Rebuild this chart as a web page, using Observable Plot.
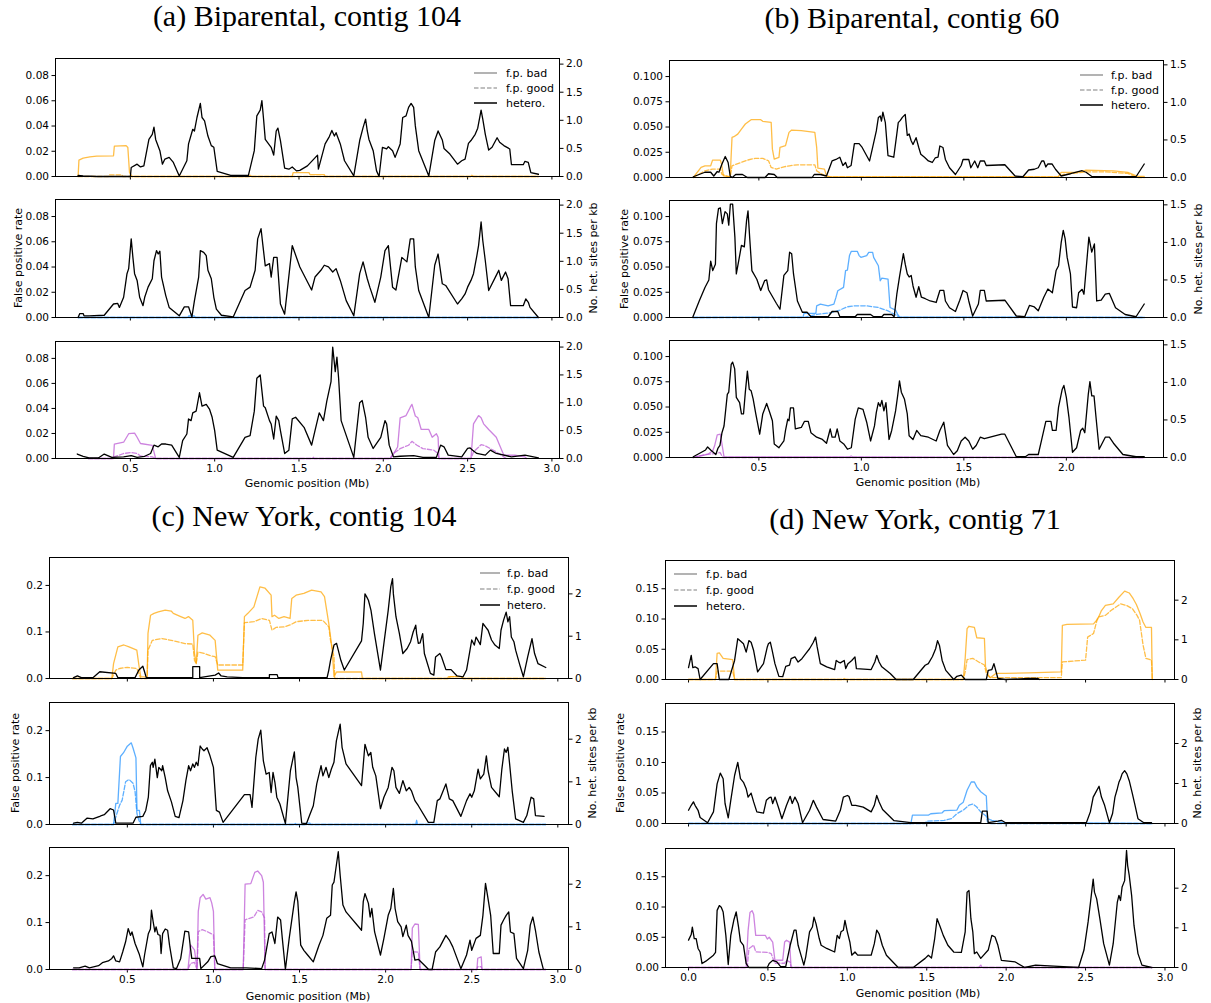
<!DOCTYPE html>
<html>
<head>
<meta charset="utf-8">
<script src="https://cdn.jsdelivr.net/npm/d3@7"></script>
<script src="https://cdn.jsdelivr.net/npm/@observablehq/plot@0.6"></script>
<style>
  body { margin: 0; background: #fff; }
  #fig { position: relative; width: 1211px; height: 1003px; background: #fff; overflow: hidden; font-family: "DejaVu Sans", sans-serif; }
  .t { position: absolute; white-space: nowrap; transform: translate(-50%, -50%); line-height: 1; color: #000; }
  .title { font-family: "Liberation Serif", serif; font-size: 30px; }
  .lab { font-size: 11px; }
</style>
</head>
<body>
<div id="fig"></div>
<script>
// ---- (a) Biparental, contig 104 : [position Mb, value] ----
const a1Het = [[0.19,0.02],[0.22,0.01],[0.30,0],[0.50,0],[0.505,0.16],[0.54,0.22],[0.56,0.17],[0.58,0.19],[0.61,0.66],[0.63,0.75],[0.64,0.88],[0.65,0.66],[0.675,0.46],[0.69,0.22],[0.705,0.31],[0.73,0.34],[0.755,0.25],[0.79,0.01],[0.835,0.28],[0.845,0.58],[0.87,0.84],[0.88,0.81],[0.895,1.05],[0.915,1.30],[0.925,1.05],[0.94,0.99],[0.96,0.72],[0.98,0.55],[0.995,0.52],[1.015,0.09],[1.095,0.02],[1.20,0.02],[1.235,0.46],[1.25,1.08],[1.27,1.18],[1.28,1.35],[1.29,1.02],[1.30,0.66],[1.325,0.56],[1.335,0.52],[1.35,0.38],[1.365,0.81],[1.375,0.86],[1.39,0.64],[1.415,0.15],[1.44,0.13],[1.46,0.17],[1.485,0.10],[1.505,0.11],[1.55,0.19],[1.61,0.38],[1.615,0.13],[1.655,0.58],[1.68,0.71],[1.695,0.82],[1.71,0.72],[1.72,0.78],[1.745,0.58],[1.77,0.28],[1.825,0.01],[1.86,0.64],[1.88,0.87],[1.895,1.02],[1.905,0.81],[1.915,0.66],[1.94,0.46],[1.96,0.10],[1.975,0],[1.995,0.52],[2.02,0.49],[2.03,0.53],[2.055,0.46],[2.07,0.34],[2.10,0.58],[2.115,1.05],[2.135,1.08],[2.15,1.23],[2.165,1.30],[2.18,1.23],[2.19,0.90],[2.21,0.46],[2.27,0.01],[2.305,0.64],[2.325,0.81],[2.35,0.65],[2.36,0.50],[2.395,0.40],[2.44,0.22],[2.465,0.28],[2.485,0.31],[2.505,0.59],[2.52,0.64],[2.545,0.75],[2.56,0.86],[2.58,1.18],[2.59,1.02],[2.605,0.75],[2.625,0.47],[2.645,0.52],[2.675,0.69],[2.69,0.61],[2.715,0.55],[2.75,0.49],[2.76,0.21],[2.83,0.21],[2.84,0.27],[2.86,0.25],[2.875,0.07],[2.92,0.04]];
const a1Bad = [[0.19,0],[0.195,0.013],[0.22,0.0145],[0.26,0.0155],[0.30,0.0162],[0.40,0.0164],[0.405,0.024],[0.475,0.0245],[0.485,0.023],[0.495,0.003],[0.51,0],[1.20,0],[1.21,0.001],[1.22,0],[1.46,0],[1.465,0.003],[1.56,0.003],[1.565,0.0015],[1.65,0.0015],[1.655,0],[2.52,0],[2.525,0.001],[2.535,0],[2.92,0]];
const a1Good = [[0.19,0],[0.37,0],[0.375,0.0013],[0.45,0.0013],[0.455,0],[2.92,0]];

const a2Het = [[0.19,0],[0.20,0.07],[0.22,0.07],[0.225,0.03],[0.255,0.03],[0.345,0.04],[0.40,0.24],[0.425,0.25],[0.435,0.18],[0.46,0.36],[0.48,0.78],[0.49,0.87],[0.505,1.40],[0.515,1.07],[0.525,0.78],[0.54,0.66],[0.555,0.36],[0.575,0.21],[0.585,0.36],[0.605,0.54],[0.63,0.69],[0.64,1.01],[0.655,1.19],[0.665,1.13],[0.675,1.18],[0.685,0.72],[0.71,0.39],[0.73,0.18],[0.79,0.03],[0.82,0.19],[0.845,0.19],[0.865,0.01],[0.88,0.30],[0.905,0.72],[0.915,1.19],[0.935,1.16],[0.95,1.10],[0.96,0.84],[0.98,0.69],[0.995,0.36],[1.01,0.15],[1.04,0.04],[1.11,0.01],[1.18,0.48],[1.21,0.54],[1.24,0.84],[1.255,1.40],[1.275,1.58],[1.285,1.31],[1.30,0.92],[1.325,0.96],[1.335,0.72],[1.35,1.07],[1.37,1.07],[1.39,0.24],[1.415,0.06],[1.46,1.28],[1.505,0.90],[1.575,0.49],[1.595,0.72],[1.63,0.84],[1.65,0.93],[1.675,0.90],[1.70,0.81],[1.72,0.87],[1.745,0.66],[1.78,0.30],[1.825,0.03],[1.86,0.78],[1.88,0.99],[1.905,0.69],[1.92,0.54],[1.95,0.27],[1.985,0.72],[2.01,1.19],[2.03,1.28],[2.055,0.54],[2.075,0.49],[2.11,1.07],[2.14,0.99],[2.16,1.40],[2.18,1.40],[2.19,0.90],[2.21,0.48],[2.27,0],[2.305,0.93],[2.325,1.13],[2.35,0.60],[2.37,0.57],[2.44,0.24],[2.465,0.33],[2.485,0.42],[2.50,0.54],[2.52,0.66],[2.535,0.78],[2.555,1.10],[2.565,1.28],[2.58,1.70],[2.59,1.37],[2.605,1.01],[2.625,0.48],[2.67,0.75],[2.685,0.84],[2.70,0.66],[2.725,0.81],[2.74,0.69],[2.755,0.21],[2.83,0.21],[2.845,0.33],[2.86,0.27],[2.87,0.18],[2.92,0]];
const a2Bad = [[0.19,0],[0.84,0],[0.845,0.0012],[0.88,0.0012],[0.885,0],[2.92,0]];
const a2Good = [[0.19,0],[2.92,0]];

const a3Het = [[0.185,0.08],[0.22,0.04],[0.255,0.01],[0.31,0.01],[0.345,0.08],[0.39,0.02],[0.46,0.03],[0.505,0.05],[0.54,0.02],[0.585,0.04],[0.62,0.09],[0.64,0.24],[0.665,0.21],[0.685,0.26],[0.71,0.26],[0.745,0.24],[0.79,0.02],[0.81,0.32],[0.835,0.44],[0.845,0.71],[0.86,0.68],[0.87,0.82],[0.89,0.85],[0.91,1.18],[0.925,0.94],[0.95,0.97],[0.97,0.88],[0.985,0.74],[1.0,0.50],[1.015,0.15],[1.11,0.02],[1.18,0.38],[1.21,0.41],[1.235,0.85],[1.25,1.44],[1.27,1.50],[1.29,0.94],[1.30,0.91],[1.325,0.68],[1.335,0.62],[1.35,0.35],[1.365,0.76],[1.38,0.68],[1.39,0.50],[1.415,0.09],[1.44,0.15],[1.46,0.71],[1.48,0.74],[1.53,0.56],[1.575,0.24],[1.595,0.50],[1.62,0.82],[1.645,0.68],[1.665,1.03],[1.69,1.38],[1.70,2.0],[1.715,1.56],[1.725,1.82],[1.735,1.44],[1.75,0.68],[1.825,0.02],[1.86,1.0],[1.875,1.04],[1.895,0.74],[1.91,0.38],[1.94,0.18],[1.985,0.38],[2.01,0.68],[2.02,0.62],[2.035,0.24],[2.06,0.03],[2.10,0.04],[2.18,0.05],[2.235,0.02],[2.315,0.02],[2.34,0.24],[2.36,0.21],[2.385,0.06],[2.465,0.03],[2.50,0.18],[2.515,0.19],[2.53,0.15],[2.555,0.09],[2.605,0.06],[2.635,0.15],[2.67,0.09],[2.76,0.03],[2.84,0.06],[2.92,0.01]];
const a3Bad = [[0.25,0],[0.40,0],[0.405,0.0114],[0.46,0.013],[0.49,0.0198],[0.525,0.0203],[0.54,0.017],[0.56,0.012],[0.63,0.0105],[0.65,0],[1.58,0],[1.585,0.001],[1.59,0],[2.04,0],[2.05,0.0013],[2.085,0.0092],[2.10,0.0325],[2.135,0.0343],[2.16,0.041],[2.17,0.0433],[2.19,0.034],[2.205,0.0325],[2.225,0.0232],[2.27,0.0232],[2.29,0.017],[2.315,0.0198],[2.325,0.017],[2.33,0],[2.52,0],[2.535,0.0277],[2.565,0.0343],[2.58,0.0325],[2.595,0.0277],[2.625,0.0232],[2.67,0.017],[2.715,0.0026],[2.78,0.0026],[2.84,0.0013],[2.85,0]];
const a3Good = [[0.25,0],[0.40,0],[0.405,0.0013],[0.46,0.004],[0.505,0.0048],[0.54,0.004],[0.56,0.002],[0.63,0.0013],[0.65,0],[2.04,0],[2.06,0.004],[2.10,0.0079],[2.15,0.0106],[2.17,0.0137],[2.20,0.0106],[2.235,0.0079],[2.30,0.0066],[2.325,0.004],[2.33,0],[2.52,0],[2.535,0.0053],[2.58,0.011],[2.60,0.0105],[2.635,0.0079],[2.67,0.0053],[2.715,0.0013],[2.73,0]];

// ---- (b) Biparental, contig 60 ----
const b1Het = [[0.18,0.01],[0.237,0.07],[0.265,0.07],[0.28,0.02],[0.297,0.08],[0.305,0.07],[0.32,0.18],[0.336,0.28],[0.35,0.20],[0.36,0.02],[0.37,0],[0.387,0.04],[0.42,0.04],[0.444,0],[0.53,0],[0.547,0.05],[0.575,0.04],[0.59,0],[0.76,0],[0.77,0.04],[0.80,0.04],[0.83,0.02],[0.857,0.22],[0.876,0.24],[0.895,0.27],[0.91,0.16],[0.923,0.20],[0.932,0.13],[0.95,0.16],[0.966,0.45],[0.989,0.45],[1.004,0.40],[1.026,0.29],[1.04,0.22],[1.055,0.40],[1.073,0.62],[1.083,0.80],[1.092,0.82],[1.098,0.75],[1.105,0.87],[1.117,0.73],[1.13,0.29],[1.158,0.27],[1.173,0.58],[1.18,0.73],[1.19,0.76],[1.20,0.80],[1.214,0.84],[1.224,0.56],[1.233,0.58],[1.243,0.49],[1.252,0.44],[1.267,0.53],[1.28,0.40],[1.29,0.31],[1.308,0.27],[1.327,0.22],[1.346,0.20],[1.36,0.26],[1.374,0.27],[1.383,0.42],[1.398,0.40],[1.41,0.24],[1.43,0.13],[1.459,0.04],[1.487,0.16],[1.496,0.24],[1.524,0.24],[1.534,0.13],[1.553,0.22],[1.568,0.13],[1.58,0.22],[1.60,0.22],[1.609,0.16],[1.70,0.17],[1.75,0.02],[1.788,0.01],[1.816,0.10],[1.844,0.11],[1.863,0.13],[1.88,0.22],[1.89,0.22],[1.90,0.14],[1.91,0.18],[1.93,0.18],[1.947,0.11],[1.975,0.02],[2.004,0.04],[2.02,0.05],[2.077,0.09],[2.096,0.07],[2.126,0.01],[2.34,0.01],[2.38,0.18]];
const b1Bad = [[0.18,0],[0.218,0.01],[0.237,0.0116],[0.265,0.0116],[0.274,0.0172],[0.312,0.0172],[0.318,0.0132],[0.327,0.0017],[0.36,0.0007],[0.369,0.0397],[0.378,0.0404],[0.397,0.043],[0.415,0.048],[0.434,0.053],[0.462,0.0573],[0.509,0.0573],[0.519,0.0556],[0.56,0.0546],[0.566,0.0281],[0.575,0.0182],[0.598,0.0199],[0.603,0.0298],[0.63,0.0315],[0.647,0.0447],[0.66,0.047],[0.707,0.0464],[0.773,0.0447],[0.782,0.0298],[0.788,0.0093],[0.82,0.0083],[0.83,0.0017],[0.85,0.0007],[1.96,0.0007],[1.975,0.005],[2.05,0.005],[2.077,0.006],[2.096,0.0073],[2.23,0.0066],[2.30,0.005],[2.35,0.001],[2.38,0.001]];
const b1Good = [[0.18,0],[0.237,0.0066],[0.274,0.0083],[0.312,0.0083],[0.32,0.003],[0.36,0.0005],[0.369,0.0116],[0.444,0.0172],[0.48,0.0189],[0.519,0.0189],[0.547,0.0166],[0.56,0.01],[0.585,0.0083],[0.622,0.0106],[0.65,0.0116],[0.688,0.0126],[0.773,0.0126],[0.782,0.0066],[0.83,0.0007],[1.96,0.0005],[1.985,0.003],[2.096,0.0056],[2.19,0.0056],[2.30,0.004],[2.35,0],[2.38,0]];

const b2Het = [[0.177,0],[0.209,0.22],[0.237,0.40],[0.256,0.50],[0.265,0.75],[0.275,0.625],[0.288,0.71],[0.293,1.25],[0.303,1.45],[0.312,1.46],[0.322,1.25],[0.335,1.41],[0.346,1.38],[0.353,1.23],[0.361,1.51],[0.372,1.51],[0.383,1.07],[0.39,0.58],[0.402,0.76],[0.415,0.96],[0.429,0.94],[0.44,1.29],[0.447,1.42],[0.455,1.07],[0.466,0.625],[0.49,0.51],[0.509,0.36],[0.528,0.49],[0.538,0.50],[0.547,0.37],[0.566,0.28],[0.585,0.19],[0.603,0.11],[0.622,0.56],[0.641,0.625],[0.65,0.87],[0.66,0.85],[0.669,0.58],[0.688,0.22],[0.712,0.07],[0.735,0.07],[0.754,0.01],[0.838,0.01],[0.857,0.08],[0.885,0.08],[0.895,0.01],[0.97,0.01],[0.98,0.04],[1.045,0.04],[1.06,0.01],[1.10,0.01],[1.11,0.04],[1.148,0.04],[1.16,0.01],[1.173,0.31],[1.186,0.54],[1.205,0.85],[1.214,0.71],[1.224,0.58],[1.233,0.54],[1.243,0.56],[1.252,0.42],[1.267,0.27],[1.28,0.41],[1.293,0.27],[1.312,0.25],[1.336,0.22],[1.365,0.20],[1.383,0.36],[1.402,0.36],[1.41,0.22],[1.43,0.13],[1.459,0.08],[1.48,0.23],[1.496,0.36],[1.515,0.33],[1.524,0.22],[1.543,0.02],[1.571,0.18],[1.58,0.36],[1.60,0.36],[1.609,0.22],[1.70,0.23],[1.756,0.02],[1.797,0.01],[1.82,0.16],[1.844,0.14],[1.863,0.09],[1.89,0.27],[1.91,0.38],[1.932,0.33],[1.95,0.625],[1.962,0.69],[1.975,1.0],[1.985,1.16],[1.994,1.05],[2.004,0.80],[2.02,0.58],[2.03,0.14],[2.05,0.13],[2.06,0.33],[2.077,0.375],[2.086,0.31],[2.096,0.625],[2.11,1.07],[2.124,0.87],[2.137,0.98],[2.148,0.22],[2.17,0.23],[2.19,0.31],[2.21,0.32],[2.24,0.13],[2.287,0.04],[2.34,0.01],[2.38,0.18]];
const b2Bad = [[0.18,0],[0.716,0.0007],[0.72,0.004],[0.778,0.004],[0.782,0.0116],[0.80,0.0132],[0.838,0.0116],[0.866,0.0132],[0.876,0.0199],[0.885,0.0265],[0.913,0.0298],[0.923,0.0464],[0.932,0.047],[0.942,0.0613],[0.951,0.0656],[0.98,0.0656],[0.989,0.0613],[0.998,0.0596],[1.026,0.0613],[1.036,0.0646],[1.055,0.0646],[1.06,0.0596],[1.083,0.0513],[1.092,0.0364],[1.10,0.039],[1.13,0.0381],[1.14,0.0099],[1.167,0.0073],[1.177,0.003],[1.186,0.0007],[2.38,0]];
const b2Good = [[0.18,0],[0.716,0],[0.782,0.003],[0.857,0.005],[0.895,0.0073],[0.932,0.0106],[0.97,0.0116],[1.026,0.0116],[1.083,0.0099],[1.13,0.0066],[1.167,0.0026],[1.186,0],[2.38,0]];

const b3Het = [[0.18,0.01],[0.24,0.10],[0.25,0.14],[0.265,0.10],[0.29,0.04],[0.30,0.12],[0.31,0.16],[0.32,0.33],[0.33,0.42],[0.346,0.84],[0.353,0.87],[0.365,1.24],[0.372,1.27],[0.382,1.18],[0.39,0.80],[0.406,0.73],[0.415,0.58],[0.425,0.58],[0.434,0.87],[0.444,1.15],[0.453,0.91],[0.462,0.89],[0.472,0.78],[0.485,0.58],[0.504,0.31],[0.519,0.58],[0.538,0.72],[0.553,0.60],[0.566,0.49],[0.575,0.18],[0.598,0.13],[0.622,0.22],[0.63,0.36],[0.641,0.51],[0.647,0.49],[0.654,0.66],[0.669,0.66],[0.678,0.38],[0.707,0.40],[0.722,0.48],[0.741,0.48],[0.754,0.33],[0.782,0.27],[0.81,0.24],[0.83,0.19],[0.848,0.38],[0.857,0.27],[0.872,0.27],[0.882,0.38],[0.895,0.22],[0.914,0.18],[0.932,0.11],[0.951,0.13],[0.97,0.51],[0.985,0.66],[1.008,0.64],[1.026,0.47],[1.045,0.22],[1.064,0.42],[1.073,0.60],[1.083,0.73],[1.092,0.68],[1.10,0.76],[1.11,0.62],[1.12,0.73],[1.135,0.24],[1.148,0.36],[1.167,0.62],[1.177,0.82],[1.186,1.02],[1.195,0.87],[1.21,0.78],[1.224,0.58],[1.233,0.29],[1.252,0.24],[1.27,0.36],[1.29,0.29],[1.327,0.27],[1.365,0.22],[1.383,0.36],[1.402,0.47],[1.41,0.33],[1.42,0.16],[1.45,0.04],[1.468,0.09],[1.487,0.22],[1.506,0.27],[1.524,0.22],[1.543,0.11],[1.56,0.16],[1.58,0.27],[1.60,0.25],[1.628,0.27],[1.684,0.31],[1.70,0.31],[1.756,0.01],[1.80,0.01],[1.816,0.04],[1.863,0.04],[1.88,0.24],[1.90,0.48],[1.925,0.48],[1.932,0.36],[1.95,0.36],[1.962,0.67],[1.98,0.91],[1.988,0.96],[2.0,0.80],[2.013,0.53],[2.03,0.07],[2.05,0.13],[2.07,0.36],[2.08,0.39],[2.09,0.33],[2.107,0.84],[2.115,1.01],[2.124,0.82],[2.135,0.82],[2.145,0.53],[2.16,0.11],[2.19,0.27],[2.21,0.27],[2.23,0.19],[2.276,0.04],[2.34,0.01],[2.38,0.01]];
const b3Bad = [[0.18,0],[0.25,0.003],[0.275,0.0066],[0.284,0.0116],[0.297,0.0225],[0.312,0.0232],[0.32,0.0132],[0.33,0.0007],[0.94,0.0005],[0.95,0.0015],[0.96,0.0005],[2.38,0]];
const b3Good = [[0.18,0],[0.24,0.003],[0.293,0.004],[0.31,0.005],[0.325,0],[2.38,0]];

// ---- (c) New York, contig 104 ----
const c1Het = [[0.188,0.02],[0.21,0.06],[0.233,0.02],[0.30,0.02],[0.34,0.16],[0.433,0.12],[0.445,0.02],[0.545,0.02],[0.567,0.20],[0.59,0.29],[0.60,0.16],[0.61,0.02],[0.78,0.02],[0.88,0.02],[0.88,0.28],[0.92,0.28],[0.92,0.02],[1.01,0.08],[1.03,0.13],[1.045,0.06],[1.08,0.04],[1.17,0.02],[1.325,0.02],[1.325,0.09],[1.37,0.09],[1.375,0.02],[1.66,0.02],[1.67,0.20],[1.68,0.43],[1.70,0.79],[1.715,0.83],[1.725,0.67],[1.74,0.43],[1.76,0.20],[1.86,0.89],[1.87,1.30],[1.88,2.0],[1.89,1.93],[1.90,1.85],[1.915,1.61],[1.935,1.06],[1.97,0.20],[1.99,0.83],[2.015,1.61],[2.03,2.17],[2.04,2.36],[2.045,2.0],[2.06,1.46],[2.08,1.06],[2.10,0.59],[2.125,0.71],[2.145,0.87],[2.16,1.10],[2.175,1.26],[2.18,1.06],[2.19,0.83],[2.20,0.84],[2.215,1.06],[2.225,0.59],[2.26,0.12],[2.28,0.08],[2.29,0.51],[2.315,0.59],[2.325,0.51],[2.35,0.21],[2.38,0.21],[2.415,0.06],[2.45,0.04],[2.47,0.20],[2.49,0.67],[2.50,0.91],[2.515,0.79],[2.525,0.98],[2.55,0.80],[2.565,1.30],[2.58,1.22],[2.595,1.14],[2.615,0.91],[2.635,0.79],[2.66,0.71],[2.67,1.14],[2.685,1.38],[2.70,1.57],[2.71,1.34],[2.72,1.46],[2.73,0.98],[2.745,0.87],[2.755,0.67],[2.78,0.31],[2.80,0.04],[2.825,0.51],[2.85,0.94],[2.865,0.59],[2.885,0.35],[2.93,0.26]];
const c1Bad = [[0.18,0],[0.41,0],[0.42,0.032],[0.445,0.068],[0.48,0.072],[0.51,0.068],[0.555,0.061],[0.567,0.029],[0.578,0.004],[0.615,0.003],[0.62,0.097],[0.635,0.136],[0.655,0.14],[0.68,0.143],[0.72,0.147],[0.755,0.145],[0.767,0.14],[0.81,0.133],[0.835,0.129],[0.855,0.133],[0.88,0.125],[0.89,0.054],[0.90,0.032],[0.91,0.093],[0.935,0.098],[0.98,0.093],[1.01,0.082],[1.025,0.018],[1.17,0.018],[1.18,0.133],[1.20,0.14],[1.235,0.154],[1.27,0.197],[1.30,0.194],[1.335,0.179],[1.34,0.133],[1.355,0.136],[1.38,0.129],[1.41,0.133],[1.445,0.129],[1.455,0.172],[1.48,0.179],[1.525,0.183],[1.57,0.19],[1.625,0.186],[1.645,0.176],[1.67,0.118],[1.69,0.061],[1.70,0.004],[1.715,0.014],[1.86,0.014],[1.865,0],[2.36,0],[2.365,0.004],[2.44,0.004],[2.45,0],[2.93,0]];
const c1Good = [[0.18,0],[0.41,0],[0.433,0.018],[0.455,0.0215],[0.50,0.024],[0.555,0.0215],[0.567,0.011],[0.578,0],[0.615,0],[0.62,0.061],[0.645,0.082],[0.70,0.086],[0.755,0.082],[0.835,0.075],[0.88,0.074],[0.89,0.039],[0.90,0.032],[0.91,0.057],[0.945,0.054],[0.99,0.048],[1.01,0.047],[1.025,0.029],[1.17,0.029],[1.18,0.12],[1.235,0.122],[1.28,0.129],[1.325,0.125],[1.34,0.104],[1.365,0.11],[1.41,0.111],[1.445,0.115],[1.48,0.122],[1.55,0.125],[1.635,0.125],[1.67,0.111],[1.68,0.082],[1.70,0.047],[1.705,0],[2.37,0],[2.375,0.004],[2.44,0.004],[2.45,0],[2.93,0]];

const c2Het = [[0.188,0.03],[0.21,0.05],[0.233,0.03],[0.267,0.15],[0.30,0.13],[0.34,0.19],[0.35,0.21],[0.366,0.23],[0.40,0.37],[0.42,0.34],[0.433,0.03],[0.533,0.03],[0.55,0.17],[0.59,0.19],[0.607,0.33],[0.622,0.64],[0.634,1.38],[0.645,1.46],[0.65,1.34],[0.66,1.53],[0.674,1.10],[0.683,1.34],[0.70,1.26],[0.705,1.38],[0.72,1.10],[0.734,0.79],[0.756,0.53],[0.778,0.19],[0.80,0.16],[0.823,0.56],[0.84,1.03],[0.856,1.38],[0.867,1.26],[0.88,1.42],[0.89,1.34],[0.90,1.46],[0.91,1.38],[0.923,1.84],[0.935,1.77],[0.945,1.73],[0.963,1.80],[0.98,1.61],[1.0,1.34],[1.017,0.33],[1.035,0.29],[1.056,0.05],[1.18,0.70],[1.213,0.70],[1.224,0.40],[1.246,1.57],[1.26,2.0],[1.275,2.21],[1.29,1.49],[1.306,1.18],[1.324,1.22],[1.335,0.75],[1.346,1.22],[1.357,0.99],[1.368,0.64],[1.386,0.48],[1.418,0.02],[1.447,1.26],[1.47,1.70],[1.48,1.10],[1.49,0.87],[1.513,0.03],[1.54,0.02],[1.558,0.21],[1.58,0.44],[1.60,0.95],[1.625,1.38],[1.636,1.14],[1.654,1.34],[1.67,1.10],[1.685,1.30],[1.70,1.46],[1.714,1.96],[1.725,2.16],[1.736,2.35],[1.747,1.81],[1.77,1.42],[1.86,0.91],[1.88,1.88],[1.90,1.61],[1.914,1.69],[1.925,1.34],[1.943,1.14],[1.97,0.37],[1.99,0.64],[2.015,0.87],[2.037,1.34],[2.048,1.26],[2.06,0.87],[2.08,0.73],[2.10,1.03],[2.12,0.79],[2.137,0.87],[2.15,0.79],[2.17,0.56],[2.19,0.44],[2.248,0.05],[2.28,0.05],[2.30,0.56],[2.315,0.60],[2.35,0.95],[2.37,0.60],[2.39,0.56],[2.437,0.19],[2.47,0.56],[2.49,0.72],[2.50,0.64],[2.515,0.79],[2.537,1.30],[2.55,1.07],[2.57,1.18],[2.585,1.61],[2.595,1.26],[2.615,0.87],[2.66,0.65],[2.675,1.30],[2.69,1.77],[2.70,1.69],[2.71,1.81],[2.72,1.42],[2.735,0.79],[2.755,0.13],[2.80,0.05],[2.82,0.21],[2.845,0.64],[2.86,0.60],[2.87,0.21],[2.92,0.19]];
const c2Bad = [[0.18,0],[0.42,0],[0.433,0.045],[0.445,0.045],[0.46,0.145],[0.478,0.153],[0.50,0.167],[0.523,0.174],[0.533,0.163],[0.55,0.142],[0.556,0.03],[0.57,0.03],[0.578,0],[1.47,0],[1.475,0.002],[1.48,0],[1.53,0],[1.535,0.003],[1.56,0.003],[1.565,0],[2.175,0],[2.18,0.009],[2.185,0],[2.93,0]];
const c2Good = [[0.18,0],[0.42,0],[0.433,0.016],[0.455,0.041],[0.47,0.052],[0.49,0.091],[0.51,0.096],[0.533,0.088],[0.545,0.07],[0.556,0.023],[0.567,0.009],[0.578,0],[2.93,0]];

const c3Het = [[0.188,0.04],[0.22,0.04],[0.255,0.08],[0.28,0.04],[0.333,0.09],[0.355,0.16],[0.39,0.20],[0.41,0.26],[0.42,0.32],[0.433,0.20],[0.455,0.18],[0.473,0.41],[0.49,0.65],[0.505,0.96],[0.518,0.80],[0.527,0.88],[0.545,0.61],[0.57,0.35],[0.59,0.06],[0.60,0.34],[0.622,0.84],[0.634,0.95],[0.64,1.39],[0.65,1.12],[0.66,0.88],[0.667,1.0],[0.678,0.82],[0.69,0.80],[0.696,0.375],[0.705,0.84],[0.72,0.95],[0.734,0.92],[0.745,0.57],[0.767,0.04],[0.785,0.02],[0.81,0.26],[0.834,0.90],[0.856,0.88],[0.867,0.49],[0.874,0.26],[0.92,0.26],[0.927,0.02],[0.967,0.18],[0.985,0.30],[1.008,0.32],[1.023,0.14],[1.10,0.04],[1.19,0.04],[1.28,0.02],[1.297,0.22],[1.324,0.84],[1.34,0.88],[1.357,0.61],[1.373,1.23],[1.39,1.16],[1.40,0.73],[1.418,0],[1.44,0.73],[1.47,1.59],[1.48,1.82],[1.49,1.59],[1.507,0.57],[1.525,0.45],[1.547,0.34],[1.58,0.18],[1.613,0.57],[1.636,0.80],[1.658,1.20],[1.68,1.27],[1.69,1.98],[1.70,2.05],[1.714,2.45],[1.725,2.76],[1.736,2.21],[1.752,1.51],[1.77,1.35],[1.86,0.92],[1.87,1.59],[1.88,1.78],[1.90,1.55],[1.91,1.23],[1.92,1.43],[1.936,0.88],[1.97,0.34],[1.99,0.73],[2.015,1.27],[2.03,1.43],[2.045,1.90],[2.055,1.43],[2.07,1.12],[2.09,1.0],[2.10,0.77],[2.12,1.04],[2.13,0.80],[2.15,0.66],[2.17,0.22],[2.19,0.24],[2.215,0.14],[2.25,0],[2.27,0],[2.29,0.41],[2.315,0.53],[2.35,0.80],[2.37,0.69],[2.39,0.53],[2.437,0.02],[2.47,0.34],[2.49,0.69],[2.50,0.45],[2.525,0.73],[2.55,0.80],[2.565,1.27],[2.58,2.02],[2.59,1.78],[2.61,1.27],[2.625,0.375],[2.66,0.375],[2.67,1.04],[2.685,1.16],[2.70,1.27],[2.715,1.35],[2.725,0.88],[2.745,0.84],[2.76,0.26],[2.80,0.02],[2.825,0.45],[2.84,1.04],[2.855,1.23],[2.87,0.92],[2.89,0.41],[2.915,0.02]];
const c3Bad = [[0.18,0],[0.852,0],[0.867,0.0525],[0.89,0.042],[0.905,0.002],[0.912,0.124],[0.923,0.153],[0.94,0.16],[0.956,0.15],[0.98,0.153],[0.99,0.142],[1.0,0.124],[1.008,0],[1.173,0],[1.184,0.182],[1.217,0.183],[1.24,0.207],[1.257,0.21],[1.28,0.20],[1.29,0.186],[1.30,0],[2.148,0],[2.155,0.088],[2.17,0.097],[2.19,0.096],[2.20,0],[2.53,0],[2.535,0.024],[2.555,0.027],[2.56,0],[2.93,0]];
const c3Good = [[0.18,0],[0.852,0],[0.867,0.013],[0.89,0.015],[0.905,0],[0.912,0.081],[0.935,0.085],[0.968,0.08],[1.0,0.074],[1.008,0],[1.173,0],[1.184,0.106],[1.235,0.112],[1.257,0.126],[1.28,0.123],[1.297,0.11],[1.30,0],[2.148,0],[2.155,0.038],[2.19,0.037],[2.20,0],[2.53,0],[2.535,0.006],[2.555,0.006],[2.56,0],[2.93,0]];

// ---- (d) New York, contig 71 ----
const d1Het = [[0.0,0.30],[0.017,0.61],[0.027,0.30],[0.041,0.32],[0.06,0.275],[0.073,0],[0.157,0.40],[0.18,0.40],[0.194,0],[0.254,0],[0.29,0.48],[0.31,1.03],[0.327,0.97],[0.346,0.90],[0.363,0.69],[0.38,0.98],[0.394,0.94],[0.41,0.73],[0.435,0.19],[0.472,0.40],[0.496,0.82],[0.503,0.90],[0.515,0.94],[0.527,0.73],[0.544,0.40],[0.569,0.08],[0.593,0.07],[0.612,0.33],[0.636,0.36],[0.646,0.525],[0.67,0.57],[0.69,0.44],[0.714,0.525],[0.738,0.65],[0.762,0.775],[0.786,0.94],[0.80,1.07],[0.81,0.82],[0.83,0.40],[0.87,0.32],[0.92,0.25],[0.93,0.48],[0.944,0.44],[0.956,0.42],[0.98,0.48],[0.99,0.275],[1.004,0.40],[1.028,0.48],[1.048,0.57],[1.057,0.275],[1.15,0.25],[1.173,0.44],[1.185,0.61],[1.20,0.44],[1.217,0.32],[1.27,0.15],[1.307,0],[1.415,0],[1.49,0.36],[1.51,0.40],[1.536,0.58],[1.556,0.775],[1.568,0.98],[1.58,0.86],[1.597,0.48],[1.62,0.23],[1.67,0],[1.69,0.08],[1.718,0.11],[1.742,0],[1.875,0],[1.887,0.23],[1.91,0.25],[1.923,0.40],[1.948,0.025],[1.996,0],[2.14,0.025],[2.20,0.025],[2.21,0]];
const d1Bad = [[0,0],[0.17,0],[0.18,0.043],[0.194,0.044],[0.218,0.035],[0.278,0.033],[0.29,0],[0.975,0],[0.98,0.0016],[0.99,0],[1.73,0],[1.742,0.035],[1.754,0.084],[1.766,0.088],[1.80,0.086],[1.815,0.069],[1.863,0.068],[1.87,0.021],[1.887,0.007],[1.90,0.003],[1.935,0.01],[1.996,0.01],[2.14,0.011],[2.347,0.0126],[2.354,0.0896],[2.383,0.091],[2.55,0.092],[2.577,0.10],[2.60,0.114],[2.625,0.1225],[2.674,0.125],[2.71,0.136],[2.746,0.146],[2.775,0.143],[2.80,0.1335],[2.82,0.124],[2.843,0.109],[2.862,0.095],[2.88,0.086],[2.915,0.086],[2.92,0]];
const d1Good = [[0,0],[0.17,0],[0.18,0.014],[0.278,0.014],[0.29,0],[1.73,0],[1.742,0.0126],[1.754,0.033],[1.79,0.035],[1.827,0.029],[1.863,0.024],[1.875,0.01],[1.90,0.003],[2.347,0.003],[2.354,0.029],[2.50,0.032],[2.513,0.07],[2.55,0.076],[2.577,0.103],[2.625,0.106],[2.66,0.114],[2.72,0.125],[2.758,0.1225],[2.795,0.117],[2.824,0.106],[2.84,0.098],[2.862,0.057],[2.88,0.035],[2.915,0.032],[2.92,0]];

const d2Het = [[0.0,0.33],[0.017,0.455],[0.031,0.54],[0.041,0.455],[0.06,0.33],[0.073,0.15],[0.12,0.02],[0.157,0.29],[0.18,0.99],[0.20,1.26],[0.218,1.12],[0.23,0.50],[0.25,0.14],[0.266,0.58],[0.29,1.20],[0.31,1.53],[0.327,1.12],[0.346,1.03],[0.363,0.87],[0.375,0.66],[0.394,0.76],[0.41,0.54],[0.43,0.29],[0.472,0.26],[0.49,0.58],[0.508,0.645],[0.52,0.66],[0.53,0.50],[0.545,0.66],[0.569,0.37],[0.588,0.12],[0.617,0.455],[0.64,0.68],[0.653,0.50],[0.67,0.66],[0.69,0.50],[0.718,0.02],[0.762,0.33],[0.786,0.58],[0.806,0.41],[0.847,0.10],[0.927,0.06],[0.956,0.33],[0.975,0.66],[1.0,0.70],[1.01,0.68],[1.028,0.455],[1.052,0.455],[1.10,0.41],[1.15,0.29],[1.17,0.455],[1.185,0.70],[1.20,0.54],[1.222,0.35],[1.294,0.07],[1.40,0.02],[1.84,0.02],[1.85,0.31],[1.88,0.31],[1.887,0.02],[1.948,0.06],[1.97,0.08],[1.996,0.02],[2.505,0.02],[2.53,0.29],[2.548,0.66],[2.565,0.785],[2.585,0.93],[2.60,0.66],[2.62,0.455],[2.65,0.02],[2.67,0.25],[2.685,0.66],[2.70,0.87],[2.71,1.03],[2.72,1.12],[2.73,1.24],[2.746,1.32],[2.76,1.24],[2.775,1.07],[2.795,0.74],[2.814,0.41],[2.83,0.12],[2.867,0.02],[2.915,0.02]];
const d2Bad = [[0,0],[1.40,0],[1.41,0.0136],[1.51,0.0136],[1.525,0.016],[1.597,0.0175],[1.61,0.021],[1.69,0.022],[1.705,0.03],[1.73,0.035],[1.754,0.0545],[1.78,0.068],[1.80,0.068],[1.815,0.06],[1.84,0.052],[1.875,0.045],[1.882,0.008],[1.91,0.005],[1.935,0.004],[1.985,0.001],[2.36,0.001],[2.92,0]];
const d2Good = [[0,0],[1.49,0],[1.50,0.004],[1.61,0.005],[1.657,0.008],[1.69,0.016],[1.73,0.022],[1.766,0.03],[1.79,0.032],[1.815,0.027],[1.84,0.019],[1.875,0.012],[1.882,0.003],[1.90,0],[2.92,0]];

const d3Het = [[0.0,0.69],[0.017,0.83],[0.024,1.02],[0.036,0.73],[0.048,0.73],[0.06,0.48],[0.073,0.39],[0.085,0.10],[0.109,0.16],[0.157,0.31],[0.17,0.38],[0.18,1.44],[0.194,1.56],[0.206,1.52],[0.218,1.40],[0.235,0.81],[0.25,0.075],[0.266,0.81],[0.285,1.19],[0.30,1.40],[0.315,1.02],[0.327,0.66],[0.346,0.56],[0.363,0.10],[0.38,0],[0.496,0],[0.508,0.10],[0.53,0.18],[0.556,0.14],[0.58,0.02],[0.612,0.02],[0.64,0.56],[0.665,0.94],[0.677,0.94],[0.69,0.56],[0.714,0.23],[0.726,0.06],[0.738,0.27],[0.762,0.90],[0.78,1.02],[0.79,1.27],[0.803,1.10],[0.823,0.73],[0.835,0.56],[0.87,0.48],[0.92,0.39],[0.936,0.81],[0.95,0.73],[0.96,0.90],[0.975,0.94],[0.985,1.19],[1.0,0.90],[1.016,0.64],[1.028,0.31],[1.048,0.39],[1.065,0.31],[1.15,0.31],[1.17,0.60],[1.185,0.94],[1.20,0.85],[1.22,0.56],[1.246,0.31],[1.32,0],[1.415,0],[1.49,0.23],[1.51,0.31],[1.53,0.24],[1.55,0.73],[1.565,1.23],[1.585,1.02],[1.604,0.81],[1.633,0.56],[1.67,0.39],[1.718,0.38],[1.742,0.90],[1.754,1.90],[1.766,1.94],[1.778,1.23],[1.79,0.90],[1.80,0.35],[1.815,0.39],[1.84,0.23],[1.887,0.44],[1.91,0.81],[1.93,0.77],[1.948,0.56],[1.97,0.18],[2.057,0.14],[2.117,0],[2.185,0.06],[2.36,0.02],[2.456,0],[2.49,0.44],[2.516,1.15],[2.53,1.61],[2.548,2.23],[2.556,1.90],[2.57,1.73],[2.59,1.23],[2.614,0.60],[2.65,0.06],[2.674,0.60],[2.70,1.65],[2.71,1.82],[2.72,1.69],[2.73,2.03],[2.746,2.19],[2.758,2.95],[2.765,2.57],[2.775,2.32],[2.79,1.82],[2.805,1.06],[2.83,0.35],[2.855,0.06],[2.915,0]];
const d3Bad = [[0,0],[0.363,0],[0.375,0.061],[0.387,0.091],[0.40,0.094],[0.41,0.088],[0.423,0.053],[0.484,0.053],[0.496,0.047],[0.508,0.05],[0.53,0.042],[0.544,0.012],[0.593,0.012],[0.605,0.042],[0.617,0.045],[0.636,0.042],[0.646,0],[1.827,0],[1.84,0.004],[1.85,0],[2.92,0]];
const d3Good = [[0,0],[0.37,0],[0.38,0.031],[0.41,0.037],[0.423,0.026],[0.496,0.025],[0.52,0.023],[0.544,0.007],[0.605,0.007],[0.617,0.012],[0.64,0.009],[0.646,0],[2.92,0]];

// Tick values and legend entries
const xTicksFull = [0.5, 1.0, 1.5, 2.0, 2.5, 3.0];
const xTicksShort = [0.5, 1.0, 1.5, 2.0];
const xTicksZero = [0.0, 0.5, 1.0, 1.5, 2.0, 2.5, 3.0];
const legendLabels = ["f.p. bad", "f.p. good", "hetero."];
const rowColors = ["#ffa500", "#1e90ff", "#ba55d3"]; // top / middle / bottom rows

// Layout of the four panels (frame edges in page pixels)
const panels = [
  { title: "(a) Biparental, contig 104", tx: 307, ty: 16,
    left: 55, right: 559, tops: [58, 199, 341], bottoms: [176, 317, 458],
    xDomain: [0.056, 3.045], xTicks: xTicksFull,
    yL: [0, 0.0935], yLT: [0, 0.02, 0.04, 0.06, 0.08], yLF: ".2f",
    yR: [0, 2.1], yRT: [0, 0.5, 1.0, 1.5, 2.0], yRF: ".1f",
    rows: [[a1Het, a1Bad, a1Good], [a2Het, a2Bad, a2Good], [a3Het, a3Bad, a3Good]],
    leg: { x1: 474, x2: 497, tx: 506, ys: [73, 88, 103] },
    yLabX: 18, yRLabX: 593, xLabX: 307, xLabY: 483 },
  { title: "(b) Biparental, contig 60", tx: 912, ty: 18,
    left: 669, right: 1163, tops: [60, 200, 340], bottoms: [177, 317, 457],
    xDomain: [0.064, 2.474], xTicks: xTicksShort,
    yL: [0, 0.1159], yLT: [0, 0.025, 0.05, 0.075, 0.1], yLF: ".3f",
    yR: [0, 1.558], yRT: [0, 0.5, 1.0, 1.5], yRF: ".1f",
    rows: [[b1Het, b1Bad, b1Good], [b2Het, b2Bad, b2Good], [b3Het, b3Bad, b3Good]],
    leg: { x1: 1080, x2: 1103, tx: 1111, ys: [75, 90, 105] },
    yLabX: 624, yRLabX: 1198, xLabX: 918, xLabY: 482 },
  { title: "(c) New York, contig 104", tx: 304, ty: 516,
    left: 49, right: 568, tops: [557, 702, 847], bottoms: [678, 824, 969],
    xDomain: [0.048, 3.062], xTicks: xTicksFull,
    yL: [0, 0.26], yLT: [0, 0.1, 0.2], yLF: ".1f",
    yR: [0, 2.86], yRT: [0, 1, 2], yRF: "d",
    rows: [[c1Het, c1Bad, c1Good], [c2Het, c2Bad, c2Good], [c3Het, c3Bad, c3Good]],
    leg: { x1: 480, x2: 500, tx: 507, ys: [573, 589, 605] },
    yLabX: 15, yRLabX: 592, xLabX: 308, xLabY: 996 },
  { title: "(d) New York, contig 71", tx: 915, ty: 519,
    left: 665, right: 1174, tops: [560, 703, 848], bottoms: [679, 823, 967],
    xDomain: [-0.145, 3.06], xTicks: xTicksZero,
    yL: [0, 0.1967], yLT: [0, 0.05, 0.1, 0.15], yLF: ".2f",
    yR: [0, 3.0], yRT: [0, 1, 2], yRF: "d",
    rows: [[d1Het, d1Bad, d1Good], [d2Het, d2Bad, d2Good], [d3Het, d3Bad, d3Good]],
    leg: { x1: 674, x2: 697, tx: 706, ys: [574, 590, 606] },
    yLabX: 620, yRLabX: 1197, xLabX: 918, xLabY: 993 }
];

const fig = document.getElementById("fig");
const ML = 60, MR = 60, MT = 6, MB = 32;
const baseStyle = { background: "none", fontFamily: "'DejaVu Sans', sans-serif", fontSize: "10.5px", color: "#000", overflow: "visible" };
const px = d => d[0], py = d => d[1];

function put(el, x, y) {
  el.style.position = "absolute";
  el.style.left = x + "px";
  el.style.top = y + "px";
  fig.appendChild(el);
}
function label(str, x, y, cls, rot) {
  const d = document.createElement("div");
  d.className = "t " + cls;
  d.textContent = str;
  d.style.left = x + "px";
  d.style.top = y + "px";
  if (rot) d.style.transform = `translate(-50%, -50%) rotate(${rot}deg)`;
  fig.appendChild(d);
}

panels.forEach(p => {
  p.rows.forEach(([het, bad, good], i) => {
    const W = p.right - p.left + ML + MR;
    const H = p.bottoms[i] - p.tops[i] + MT + MB;
    const last = i === p.rows.length - 1;
    const color = rowColors[i];

    // false-positive rates on the left axis
    const fpPlot = Plot.plot({
      width: W, height: H,
      marginLeft: ML, marginRight: MR, marginTop: MT, marginBottom: MB,
      style: baseStyle,
      x: { domain: p.xDomain },
      y: { domain: p.yL },
      marks: [
        Plot.axisX({ ticks: p.xTicks, tickSize: 3.5, tickPadding: 3, tickFormat: last ? d3.format(".1f") : () => "", label: null }),
        Plot.axisY({ anchor: "left", ticks: p.yLT, tickSize: 3.5, tickPadding: 3, tickFormat: d3.format(p.yLF), label: null }),
        Plot.line(bad, { x: px, y: py, stroke: color, strokeOpacity: 0.72, strokeWidth: 1.3 }),
        Plot.line(good, { x: px, y: py, stroke: color, strokeOpacity: 0.72, strokeWidth: 1.3, strokeDasharray: "4.5,2" })
      ]
    });
    put(fpPlot, p.left - ML, p.tops[i] - MT);

    // heterozygous site density on the right axis, drawn over the rates
    const hetPlot = Plot.plot({
      width: W, height: H,
      marginLeft: ML, marginRight: MR, marginTop: MT, marginBottom: MB,
      style: baseStyle,
      x: { domain: p.xDomain, axis: null },
      y: { domain: p.yR },
      marks: [
        Plot.line(het, { x: px, y: py, stroke: "#000", strokeWidth: 1.3 }),
        Plot.axisY({ anchor: "right", ticks: p.yRT, tickSize: 3.5, tickPadding: 3, tickFormat: d3.format(p.yRF), label: null }),
        Plot.frame({ stroke: "#000", strokeWidth: 1 })
      ]
    });
    put(hetPlot, p.left - ML, p.tops[i] - MT);
  });

  // titles and axis labels (both y labels read bottom to top)
  label(p.title, p.tx, p.ty, "title");
  const midY = (p.tops[1] + p.bottoms[1]) / 2;
  label("False positive rate", p.yLabX, midY, "lab", -90);
  label("No. het. sites per kb", p.yRLabX, midY, "lab", -90);
  label("Genomic position (Mb)", p.xLabX, p.xLabY, "lab");
});

// legends in the top row of every panel
const legendSvg = d3.create("svg")
  .attr("width", 1211).attr("height", 1003)
  .style("position", "absolute").style("left", "0px").style("top", "0px")
  .style("pointer-events", "none");
const legendStyles = [
  { stroke: "#808080", width: 1.2, dash: null },
  { stroke: "#808080", width: 1.2, dash: "4.5,2" },
  { stroke: "#000", width: 1.5, dash: null }
];
panels.forEach(p => {
  legendLabels.forEach((txt, k) => {
    const y = p.leg.ys[k];
    const s = legendStyles[k];
    legendSvg.append("line")
      .attr("x1", p.leg.x1).attr("x2", p.leg.x2).attr("y1", y).attr("y2", y)
      .attr("stroke", s.stroke).attr("stroke-width", s.width)
      .attr("stroke-dasharray", s.dash);
    legendSvg.append("text")
      .attr("x", p.leg.tx).attr("y", y).attr("dy", "0.35em")
      .attr("font-family", "DejaVu Sans, sans-serif").attr("font-size", 11)
      .attr("fill", "#000").text(txt);
  });
});
fig.appendChild(legendSvg.node());
</script>
</body>
</html>
